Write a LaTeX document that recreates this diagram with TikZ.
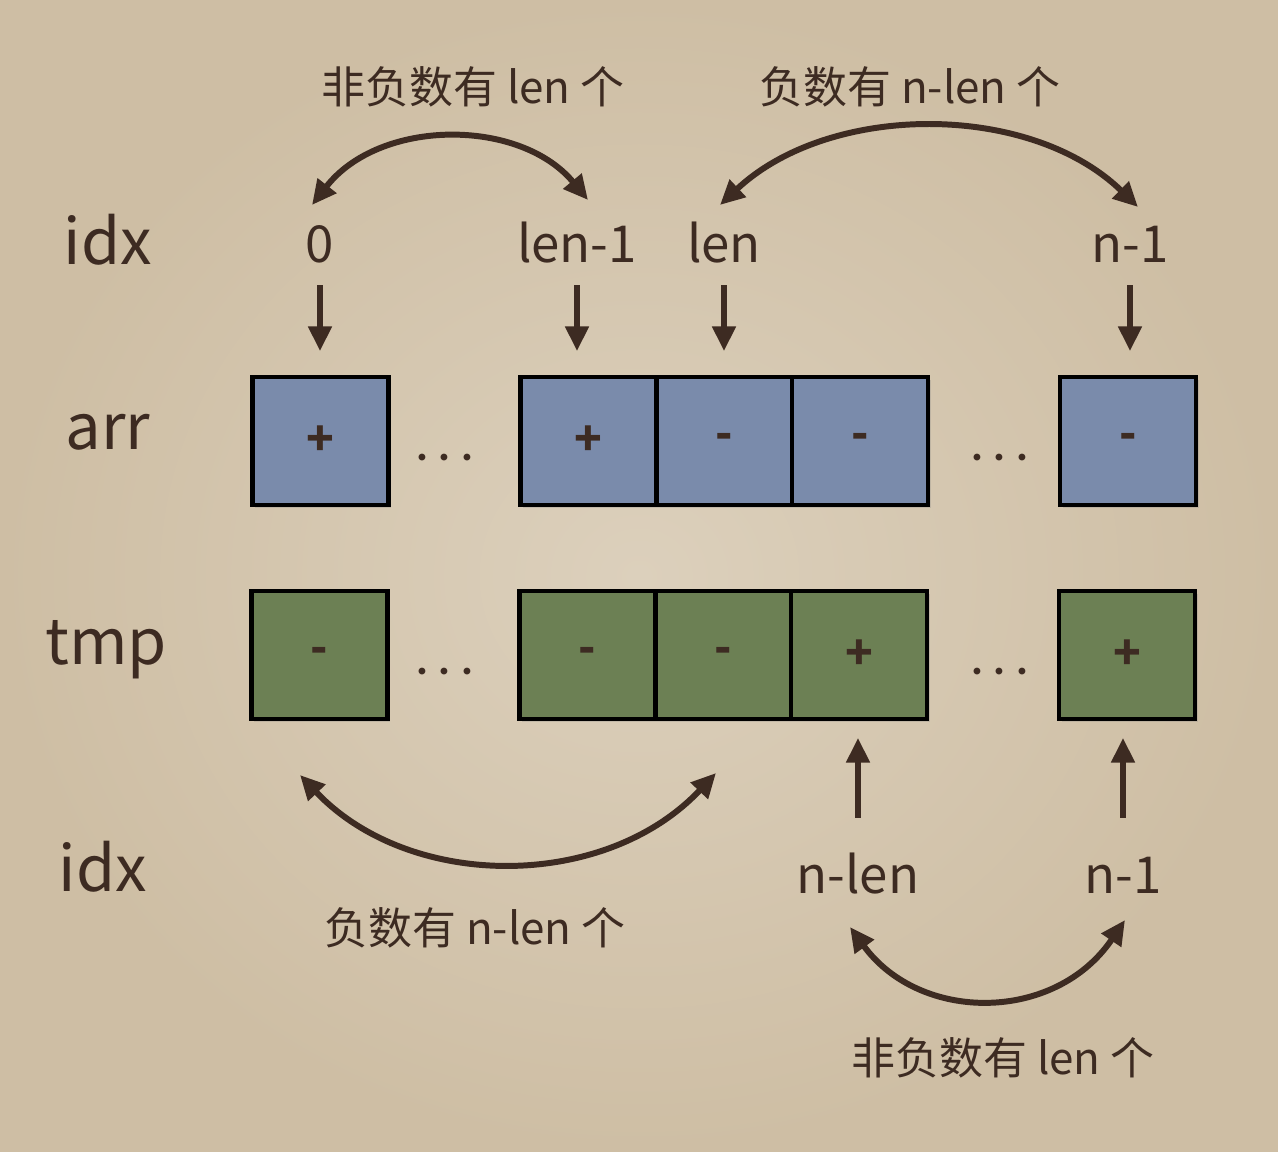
\documentclass[tikz,border=0pt]{standalone}
\usepackage{fontspec}
\setmainfont{Noto Sans CJK SC}
\usepackage{tikz}
\usetikzlibrary{positioning, arrows.meta, shadows}
\definecolor{paperlight}{HTML}{DCD0BC}
\definecolor{paperdark}{HTML}{CEBEA4}
\definecolor{cellblue}{HTML}{7A8BAB}
\definecolor{cellgreen}{HTML}{6C8054}
\definecolor{inkbrown}{HTML}{3D2B22}

\begin{document}
\begin{tikzpicture}[
    x=0.02cm, y=-0.02cm,
    every node/.style={text=inkbrown},
    rowlbl/.style={font=\fontsize{36}{40}\selectfont},
    idxlbl/.style={
        font=\fontsize{29}{32}\selectfont, inner sep=0pt,
        text height=0.9cm, text depth=0.1cm
    },
    note/.style={font=\fontsize{25}{28}\selectfont},
    cell/.style={
        rectangle, draw=black, line width=2.3pt, outer sep=0pt,
        minimum width=2.72cm, minimum height=2.56cm,
        font=\fontsize{26}{28}\selectfont\bfseries,
        drop shadow={shadow xshift=1.5pt, shadow yshift=-1.5pt, opacity=0.25}
    },
    arrcell/.style={cell, fill=cellblue},
    tmpcell/.style={cell, fill=cellgreen},
    gap/.style={font=\fontsize{30}{32}\selectfont\boldmath},
    arr/.style={-{Triangle[length=14pt,width=13pt]}, line width=3pt, draw=inkbrown},
    swap/.style={{Triangle[length=14pt,width=13pt]}-{Triangle[length=14pt,width=13pt]},
        line width=3.4pt, draw=inkbrown},
]

% Paper background
\shade[inner color=paperlight, outer color=paperdark] (0,0) rectangle (1278,1152);

% Row labels
\node[rowlbl] (idxtop) at (108,240) {idx};
\node[rowlbl] (arrlbl) at (108,432) {arr};
\node[rowlbl] (tmplbl) at (106,650) {tmp};
\node[rowlbl] (idxbot) at (103,867) {idx};

% Top indices
\node[idxlbl] (i0) at (320,243) {0};
\node[idxlbl] (ilen1) at (577,243) {len-1};
\node[idxlbl] (ilen) at (724,243) {len};
\node[idxlbl] (in1) at (1130,243) {n-1};

% arr row
\node[arrcell] (a1) at (320.5,441) {+};
\node[gap] (adots1) at (445,458) {$\cdots$};
\node[arrcell] (a2) at (588.5,441) {+};
\node[arrcell, right=0cm of a2] (a3) {-};
\node[arrcell, right=0cm of a3] (a4) {-};
\node[gap] (adots2) at (1000,458) {$\cdots$};
\node[arrcell] (a5) at (1128,441) {-};

% tmp row
\node[tmpcell] (t1) at (319.5,655) {-};
\node[gap] (tdots1) at (445,672) {$\cdots$};
\node[tmpcell] (t2) at (587.5,655) {-};
\node[tmpcell, right=0cm of t2] (t3) {-};
\node[tmpcell, right=0cm of t3] (t4) {+};
\node[gap] (tdots2) at (1000,672) {$\cdots$};
\node[tmpcell] (t5) at (1127,655) {+};

% Bottom indices
\node[idxlbl] (jnlen) at (858,873) {n-len};
\node[idxlbl] (jn1) at (1123,873) {n-1};

% Counts
\node[note] (toppos) at (473,87) {非负数有 len 个};
\node[note] (topneg) at (910,87) {负数有 n-len 个};
\node[note] (botneg) at (475,928) {负数有 n-len 个};
\node[note] (botpos) at (1003,1058) {非负数有 len 个};

% Curve ends
\coordinate (tl1) at (312,205);
\coordinate (tl2) at (588,200);
\coordinate (tr1) at (720,205);
\coordinate (tr2) at (1138,207);
\coordinate (bl1) at (300,775);
\coordinate (bl2) at (716,773);
\coordinate (br1) at (850,927);
\coordinate (br2) at (1125,920);

% ── Arrows ──
\draw[arr, shorten <=0.34cm, shorten >=0.52cm] (i0.south) -- (i0.south |- a1.north);
\draw[arr, shorten <=0.34cm, shorten >=0.52cm] (ilen1.south) -- (ilen1.south |- a2.north);
\draw[arr, shorten <=0.34cm, shorten >=0.52cm] (ilen.south) -- (ilen.south |- a3.north);
\draw[arr, shorten <=0.34cm, shorten >=0.52cm] (in1.south) -- (in1.south |- a5.north);

\draw[arr, shorten <=0.6cm, shorten >=0.38cm] (jnlen.north) -- (jnlen.north |- t4.south);
\draw[arr, shorten <=0.6cm, shorten >=0.38cm] (jn1.north) -- (jn1.north |- t5.south);

\draw[swap] (tl1) .. controls (380,118) and (520,118) .. (tl2);
\draw[swap] (tr1) .. controls (830,102) and (1030,102) .. (tr2);
\draw[swap] (bl1) .. controls (410,891) and (605,891) .. (bl2);
\draw[swap] (br1) .. controls (920,1023) and (1055,1023) .. (br2);

\end{tikzpicture}
\end{document}
